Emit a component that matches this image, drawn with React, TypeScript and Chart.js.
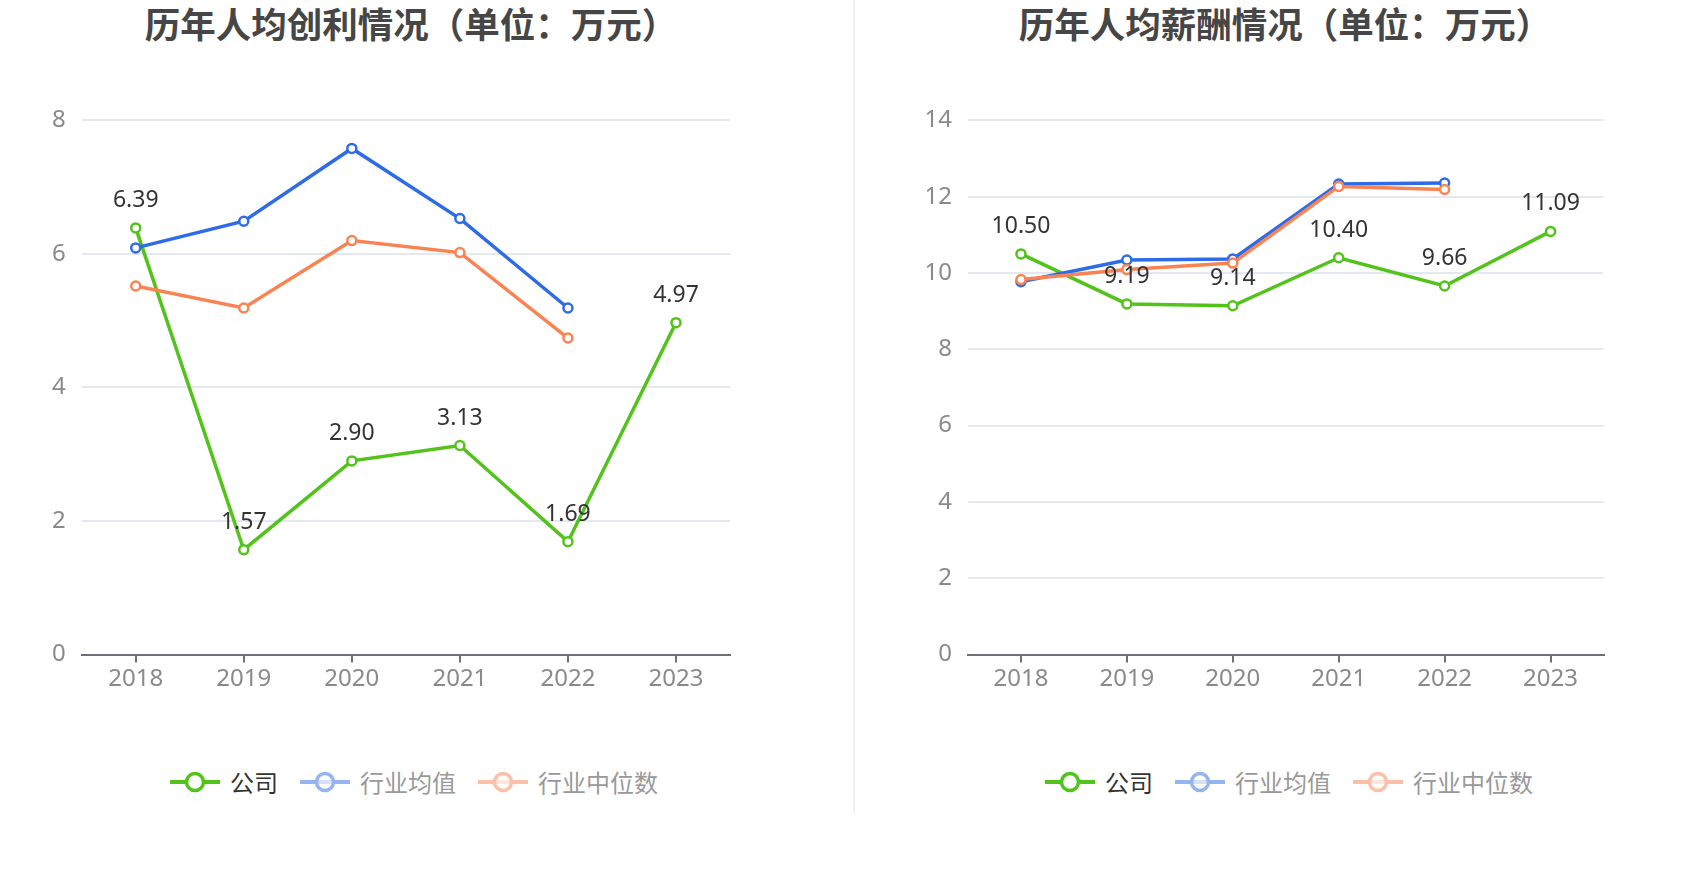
import React, { useEffect, useRef } from "react";
import { Chart, registerables } from "chart.js";

Chart.register(...registerables);

const years = ["2018", "2019", "2020", "2021", "2022", "2023"];

const profitCompany = [6.39, 1.57, 2.9, 3.13, 1.69, 4.97];
const profitAvg = [6.09, 6.49, 7.58, 6.53, 5.19, null];
const profitMedian = [5.52, 5.19, 6.2, 6.02, 4.74, null];
const profitMax = 8;

const salaryCompany = [10.5, 9.19, 9.14, 10.4, 9.66, 11.09];
const salaryAvg = [9.77, 10.34, 10.37, 12.33, 12.36, null];
const salaryMedian = [9.83, 10.09, 10.26, 12.27, 12.19, null];
const salaryMax = 14;

const seriesNames = ["公司", "行业均值", "行业中位数"];
const colors = ["#52c31a", "#2e6be6", "#fa8353"];

const tickFont = { family: "'Noto Sans', sans-serif", size: 24 };

const labelPlugin = {
  id: "valueLabels",
  afterDatasetsDraw(chart: any) {
    const ctx = chart.ctx;
    const meta = chart.getDatasetMeta(0);
    const ds = chart.data.datasets[0];
    ctx.save();
    ctx.font = "23px 'Noto Sans', sans-serif";
    ctx.fillStyle = "#333333";
    ctx.textAlign = "center";
    ctx.textBaseline = "alphabetic";
    meta.data.forEach((pt: any, i: number) => {
      const v = ds.data[i];
      if (v == null) return;
      ctx.fillText(Number(v).toFixed(2), pt.x, pt.y - 21);
    });
    ctx.restore();
  },
};

function LineChart(props: {
  company: (number | null)[];
  avg: (number | null)[];
  median: (number | null)[];
  max: number;
  yWidth: number;
  padRight: number;
  width: number;
}) {
  const ref = useRef<HTMLCanvasElement>(null);
  useEffect(() => {
    const mk = (label: string, data: any[], color: string, order: number) => ({
      label,
      data,
      borderColor: color,
      backgroundColor: "#ffffff",
      pointBackgroundColor: "#ffffff",
      pointBorderColor: color,
      pointRadius: 4.5,
      pointBorderWidth: 2.5,
      borderWidth: 3.5,
      tension: 0,
      order,
      clip: false as any,
    });
    const chart = new Chart(ref.current!, {
      type: "line",
      data: {
        labels: years,
        datasets: [
          mk(seriesNames[0], props.company, colors[0], 3),
          mk(seriesNames[1], props.avg, colors[1], 2),
          mk(seriesNames[2], props.median, colors[2], 1),
        ],
      },
      options: {
        responsive: false,
        animation: false,
        devicePixelRatio: 1,
        layout: { padding: { left: 0, top: 8.5, right: props.padRight, bottom: 5.5 } },
        plugins: { legend: { display: false }, tooltip: { enabled: false }, title: { display: false } },
        scales: {
          x: {
            type: "category",
            offset: true,
            afterFit: (s: any) => {
              s.height = 40;
            },
            grid: {
              offset: false,
              drawOnChartArea: false,
              drawTicks: true,
              tickLength: 8,
              color: "#6e7079",
              lineWidth: 2,
            },
            border: { display: true, color: "#6e7079", width: 2 },
            ticks: { font: tickFont, color: "#8a8a8a", padding: 2, maxRotation: 0 },
          },
          y: {
            min: 0,
            max: props.max,
            afterFit: (s: any) => {
              s.width = props.yWidth;
            },
            grid: { color: "#e3e8f2", lineWidth: 2, drawTicks: false },
            border: { display: false },
            ticks: { stepSize: 2, font: tickFont, color: "#8a8a8a", padding: 16 },
          },
        },
      } as any,
      plugins: [labelPlugin],
    });
    return () => chart.destroy();
  }, []);
  return <canvas ref={ref} width={props.width} height={610} style={{ width: props.width, height: 610, display: "block" }} />;
}

function Legend(props: { left: number }) {
  return (
    <div
      style={{
        position: "absolute",
        left: props.left,
        top: 766,
        height: 32,
        display: "flex",
        alignItems: "center",
        fontFamily: "'Noto Sans CJK SC', sans-serif",
        fontSize: 24,
        whiteSpace: "nowrap",
      }}
    >
      {seriesNames.map((n, i) => (
        <div key={n} style={{ display: "flex", alignItems: "center", marginRight: i < 2 ? 22 : 0 }}>
          <svg width={50} height={24} style={{ opacity: i === 0 ? 1 : 0.5 }}>
            <line x1={0} y1={12} x2={50} y2={12} stroke={colors[i]} strokeWidth={4} />
            <circle cx={25} cy={12} r={8.5} fill="#ffffff" fillOpacity={i === 0 ? 1 : 0.6} stroke={colors[i]} strokeWidth={3.5} />
          </svg>
          <span style={{ marginLeft: 10, color: i === 0 ? "#333333" : "#999999", lineHeight: "32px" }}>{n}</span>
        </div>
      ))}
    </div>
  );
}

function Title(props: { text: string; center: number }) {
  return (
    <div
      style={{
        position: "absolute",
        left: props.center - 400,
        width: 800,
        top: 5,
        textAlign: "center",
        fontFamily: "'Noto Sans CJK SC', sans-serif",
        fontWeight: 700,
        fontSize: 35.5,
        lineHeight: "36px",
        color: "#464646",
        whiteSpace: "nowrap",
      }}
    >
      {props.text}
    </div>
  );
}

export default function App() {
  return (
    <div
      style={{
        position: "fixed",
        left: 0,
        top: 0,
        width: 1700,
        height: 874,
        background: "#ffffff",
        overflow: "hidden",
      }}
    >
      <Title text="历年人均创利情况（单位：万元）" center={411} />
      <Title text="历年人均薪酬情况（单位：万元）" center={1285} />
      <div style={{ position: "absolute", left: 0, top: 90 }}>
        <LineChart company={profitCompany} avg={profitAvg} median={profitMedian} max={profitMax} yWidth={81.7} padRight={30} width={760} />
      </div>
      <div style={{ position: "absolute", left: 854, top: 90 }}>
        <LineChart company={salaryCompany} avg={salaryAvg} median={salaryMedian} max={salaryMax} yWidth={114} padRight={96.5} width={846} />
      </div>
      <div style={{ position: "absolute", left: 853, top: 0, width: 2, height: 813, background: "#f0f0f0" }} />
      <Legend left={170} />
      <Legend left={1045} />
    </div>
  );
}
